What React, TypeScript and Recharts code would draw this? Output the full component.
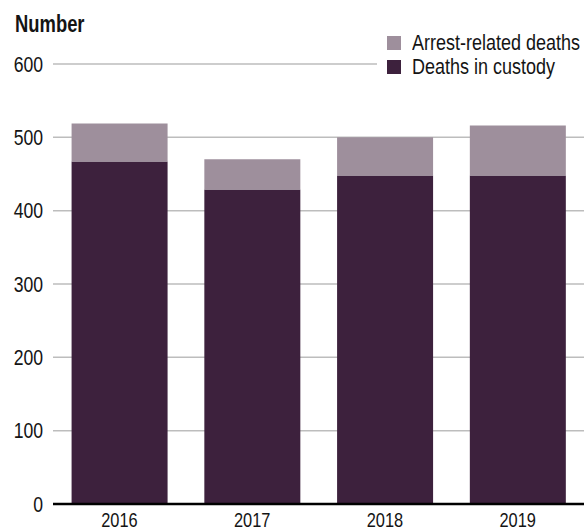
import { BarChart, Bar, XAxis, YAxis, CartesianGrid } from 'recharts'

const years = ['2016', '2017', '2018', '2019']
const custodyDeaths = [467, 429, 448, 448]
const arrestDeaths = [52, 41, 52, 68]
const yTicks = [0, 100, 200, 300, 400, 500, 600]

const data = years.map((year, i) => ({
  year,
  custody: custodyDeaths[i],
  arrest: arrestDeaths[i],
}))

// no condensed font installed, so squeeze Liberation Sans horizontally
const FONT = '"Liberation Sans", Arial, sans-serif'
const SQUEEZE = 0.8
const DARK = '#3d213d'
const LIGHT = '#9e8f9c'
const INK = '#141414'

const legendItems = [
  { label: 'Arrest-related deaths', color: LIGHT },
  { label: 'Deaths in custody', color: DARK },
]

function YTick({ x, y, payload }: any) {
  return (
    <g transform={`translate(${x},${y})`}>
      <text transform={`scale(${SQUEEZE},1)`} textAnchor="end" dy="0.355em" fontSize={22} fill={INK} fontFamily={FONT}>
        {payload.value}
      </text>
    </g>
  )
}

function XTick({ x, y, payload }: any) {
  return (
    <g transform={`translate(${x},${y})`}>
      <text transform={`scale(${SQUEEZE},1)`} textAnchor="middle" dy="0.71em" fontSize={20.5} fill={INK} fontFamily={FONT}>
        {payload.value}
      </text>
    </g>
  )
}

const squeezed = {
  transform: `scaleX(${SQUEEZE})`,
  transformOrigin: 'left center',
  whiteSpace: 'nowrap' as const,
  display: 'inline-block',
}

export default function App() {
  return (
    <div style={{ position: 'absolute', left: 0, top: 0, width: 587, height: 531, background: '#fff' }}>
      <BarChart
        width={587}
        height={531}
        data={data}
        margin={{ top: 64, right: 3, bottom: 0, left: 0 }}
        barCategoryGap="14%"
      >
        <CartesianGrid vertical={false} stroke="#bdbdbd" strokeWidth={1.5} />
        <XAxis
          dataKey="year"
          height={27}
          tickLine={false}
          tickSize={0}
          tickMargin={8}
          axisLine={{ stroke: '#000', strokeWidth: 2.6 }}
          tick={<XTick />}
        />
        <YAxis
          width={53}
          domain={[0, 600]}
          ticks={yTicks}
          interval={0}
          axisLine={false}
          tickLine={false}
          tickSize={0}
          tickMargin={10}
          tick={<YTick />}
        />
        <Bar dataKey="custody" stackId="a" fill={DARK} isAnimationActive={false} />
        <Bar dataKey="arrest" stackId="a" fill={LIGHT} isAnimationActive={false} />
      </BarChart>
      <div
        style={{
          position: 'absolute',
          left: 15,
          top: 11,
          fontFamily: FONT,
          fontWeight: 'bold',
          fontSize: 23,
          color: INK,
          lineHeight: '27px',
        }}
      >
        <span style={squeezed}>Number</span>
      </div>
      <div
        style={{
          position: 'absolute',
          left: 377,
          top: 31,
          width: 210,
          background: '#fff',
          fontFamily: FONT,
          fontSize: 22.5,
          color: INK,
          paddingLeft: 10,
          boxSizing: 'border-box',
        }}
      >
        {legendItems.map((item) => (
          <div key={item.label} style={{ display: 'flex', alignItems: 'center', height: 24 }}>
            <span
              style={{ flexShrink: 0, display: 'inline-block', width: 14, height: 14, background: item.color, marginRight: 11 }}
            />
            <span style={squeezed}>{item.label}</span>
          </div>
        ))}
      </div>
    </div>
  )
}
